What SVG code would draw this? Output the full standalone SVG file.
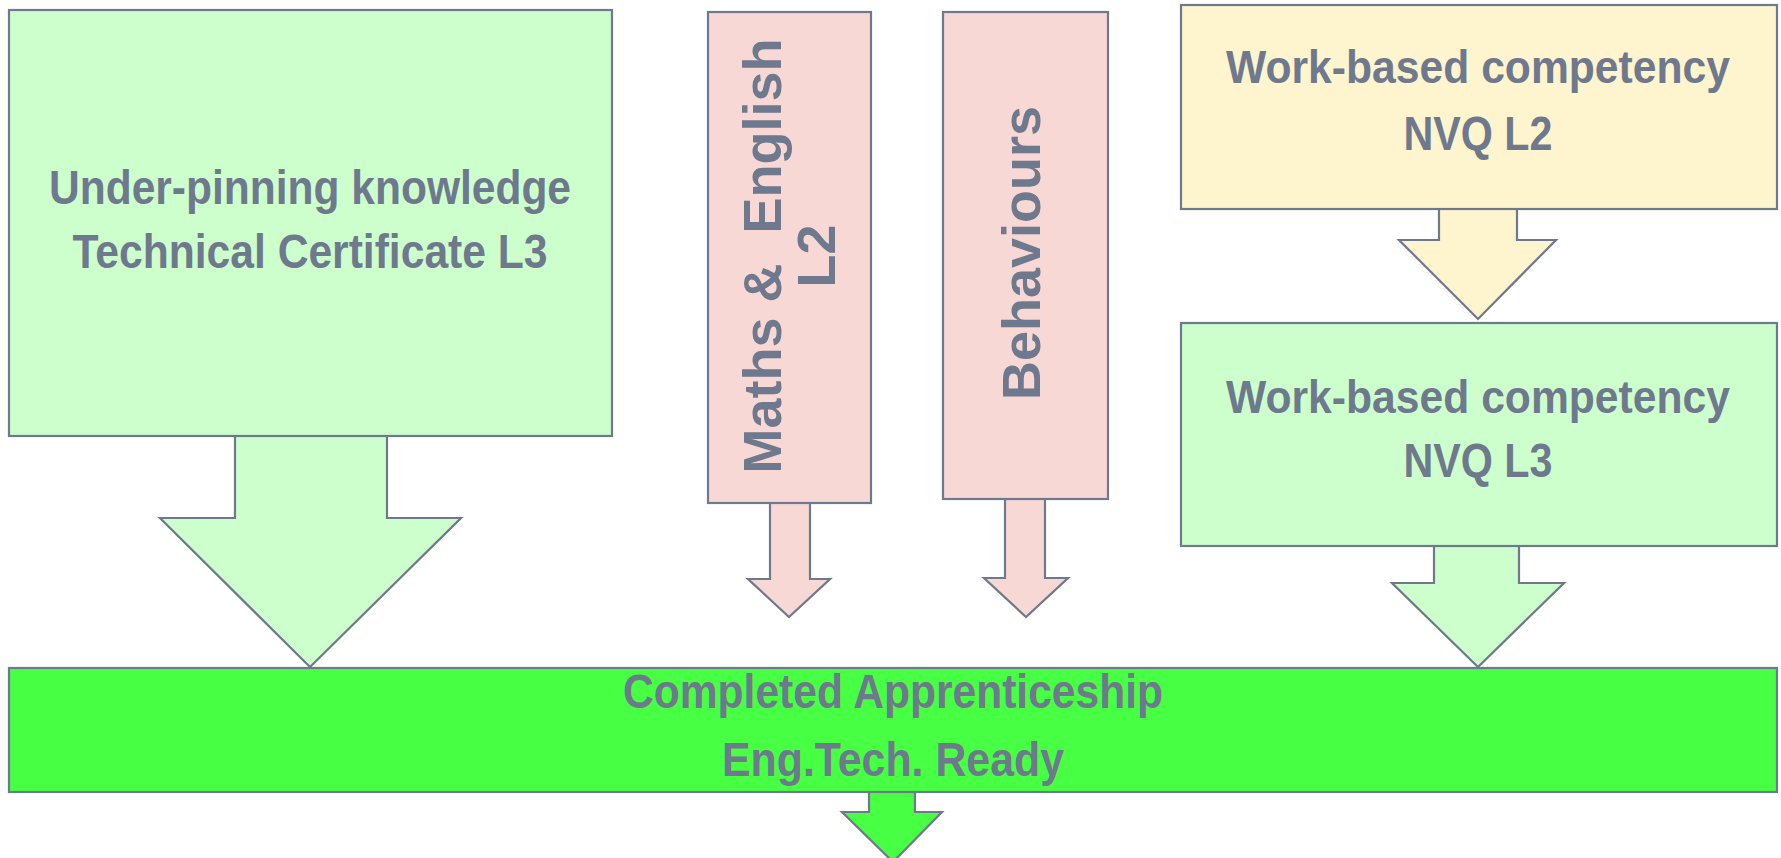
<svg xmlns="http://www.w3.org/2000/svg" width="1781" height="858" viewBox="0 0 1781 858">
<style>
.sh{stroke:#6f798d;stroke-width:2.2;stroke-linejoin:miter}
.lg{fill:#ccffcc}.pk{fill:#f8d8d5}.yl{fill:#fef4cd}.bg{fill:#47ff43}
.t{font-family:"Liberation Sans",Arial,sans-serif;font-weight:bold;fill:#6f798d;text-anchor:middle}
.h{font-size:48px}.w{font-size:46px}.v{font-size:54px}
</style>
<rect width="1781" height="858" fill="#ffffff"/>
<g id="connectors">
<path class="sh lg" d="M235,436 L235,518 L160,518 L310,667 L461,518 L387,518 L387,436"/>
<path class="sh pk" d="M770,503 L770,579 L748,579 L789,617 L830,579 L810,579 L810,503"/>
<path class="sh pk" d="M1005,499 L1005,578 L984,578 L1026,617 L1068,578 L1045,578 L1045,499"/>
<path class="sh yl" d="M1439,209 L1439,240 L1399,240 L1478,319 L1556,240 L1517,240 L1517,209"/>
<path class="sh lg" d="M1434,546 L1434,583 L1392,583 L1478,667 L1564,583 L1519,583 L1519,546"/>
<path class="sh bg" d="M869,792 L869,812 L842,812 L893,862 L942,812 L915,812 L915,792"/>
</g>
<g id="node-knowledge">
<rect class="sh lg" x="9" y="10" width="603" height="426"/>
<text class="t h" x="310" y="204" textLength="522" lengthAdjust="spacingAndGlyphs">Under-pinning knowledge</text>
<text class="t h" x="310" y="268" textLength="475" lengthAdjust="spacingAndGlyphs">Technical Certificate L3</text>
</g>
<g id="node-maths">
<rect class="sh pk" x="708" y="12" width="163" height="491"/>
<text class="t v" transform="translate(781,256) rotate(-90)" x="0" y="0">Maths &amp;&#160; English</text>
<text class="t v" transform="translate(835,256) rotate(-90)" x="0" y="0">L2</text>
</g>
<g id="node-behaviours">
<rect class="sh pk" x="943" y="12" width="165" height="487"/>
<text class="t v" transform="translate(1040,253) rotate(-90)" x="0" y="0">Behaviours</text>
</g>
<g id="node-nvq2">
<rect class="sh yl" x="1181" y="5" width="596" height="204"/>
<text class="t w" x="1478" y="83" textLength="504" lengthAdjust="spacingAndGlyphs">Work-based competency</text>
<text class="t h" x="1478" y="150" textLength="149" lengthAdjust="spacingAndGlyphs">NVQ L2</text>
</g>
<g id="node-nvq3">
<rect class="sh lg" x="1181" y="323" width="596" height="223"/>
<text class="t w" x="1478" y="413" textLength="504" lengthAdjust="spacingAndGlyphs">Work-based competency</text>
<text class="t h" x="1478" y="477" textLength="149" lengthAdjust="spacingAndGlyphs">NVQ L3</text>
</g>
<g id="node-completed">
<rect class="sh bg" x="9" y="668" width="1768" height="124"/>
<text class="t h" x="893" y="708" textLength="540" lengthAdjust="spacingAndGlyphs">Completed Apprenticeship</text>
<text class="t h" x="893" y="776" textLength="342" lengthAdjust="spacingAndGlyphs">Eng.Tech. Ready</text>
</g>
</svg>
